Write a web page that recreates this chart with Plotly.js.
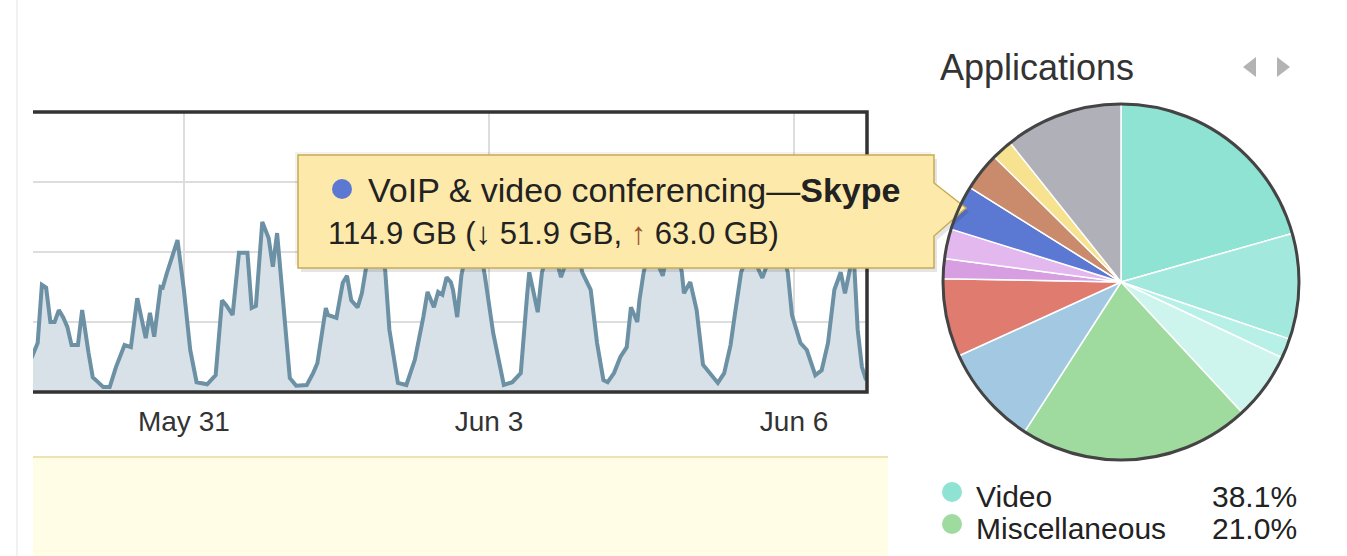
<!DOCTYPE html>
<html><head><meta charset="utf-8">
<script src="https://cdn.plot.ly/plotly-3.0.1.min.js"></script>
<style>html,body{margin:0;padding:0;background:#fff;overflow:hidden}#chart{width:1347px;height:556px}</style>
</head><body><div id="chart"></div>
<script>
// ---- data ----
const hoursFromMay31 = [-36,-34.5,-33.5,-32.5,-31.5,-30.5,-29.5,-28.5,-27.5,-26.5,
 -25,-24,-22.5,-21.5,-19,-17.5,-16,-14,-12.5,-11,
 -9,-8,-7,-5.5,-5,-4,-1.5,0,1.5,3,
 5.5,7.5,9,10,11.5,13,15,16,17,18.5,
 20,21,22,23.5,25,26.5,29,30.5,31.5,33.5,
 34,36,37.5,38.5,39.5,41,42,43.5,45,46.5,
 47.5,48.5,50.5,52.5,54.5,56.5,57.5,59,60,61,
 62,63,63.5,64.5,65.5,67,68.5,70,71,73,
 75.5,77.5,79.5,81,81.5,82.5,83.5,84.5,86.5,88,
 89,90.5,92.5,94,96,97.5,99,100,101.5,103,
 104.5,105.5,107,107.5,108.5,110,111.5,113,114,116,
 117.5,118,119.5,121,122.5,124,126,127.5,129,130,
 131.5,133.5,135.5,136.5,138.5,140.5,142.5,143.5,145.5,147,
 149,150.5,152,153.5,155,156,157,158,159,160,161];
const usage = [4.8,7.0,15.3,14.9,10.0,10.0,11.7,10.7,9.3,6.7,
 6.7,11.7,5.6,2.1,0.7,0.7,3.6,6.7,6.4,13.4,
 7.7,11.3,7.9,15.0,14.9,17.0,21.7,14.6,6.0,1.4,
 1.1,2.4,13.1,12.4,11.0,19.9,19.9,12.0,12.3,24.3,
 22.0,17.9,22.7,12.7,2.0,0.9,1.0,2.7,4.1,12.0,
 11.0,10.6,15.6,16.6,13.1,12.1,14.1,19.6,22.9,21.0,
 17.4,8.9,1.3,1.0,4.6,10.7,14.3,12.1,14.3,13.9,
 16.4,15.7,14.6,10.7,16.7,21.0,22.9,20.3,16.7,8.4,
 1.0,1.4,2.7,13.9,17.1,14.3,11.4,17.1,21.0,18.6,
 16.4,19.1,22.0,17.1,14.6,7.0,1.7,1.4,2.7,5.0,
 6.4,12.1,10.0,13.1,17.1,21.0,18.6,16.6,19.6,21.7,
 17.1,14.1,15.7,11.7,3.9,2.7,1.3,2.7,6.7,11.0,
 17.1,20.3,17.7,16.3,19.6,21.7,17.1,11.0,7.0,6.0,
 2.4,3.1,7.0,14.6,17.1,14.1,17.0,20.3,8.9,3.6,1.7];
const tickDates = ['2013-05-31','2013-06-03','2013-06-06'];
const tickLabels = ['May 31','Jun 3','Jun 6'];

const appLabels = ['Video — 1','Video — 2','Video — 3','Video — 4','Miscellaneous',
 'Category 3','Category 4','Category 5a','Category 5b',
 'VoIP & video conferencing—Skype','Category 7','Category 8','Other'];
const appShares = [20.6,9.6,1.8,6.1,21.0,9.1,7.1,1.8,2.7,4.1,3.5,1.9,10.7];
const appColors = ['#8ee3d3','#a2e8dc','#b7f0e6','#cdf5ee','#9fdb9e','#a3c9e2','#e07b6f',
 '#d79fe1','#e3b8ee','#5b79d3','#c98b6b','#f6e28f','#b0b0b8'];

const legendCategories = ['Video','Miscellaneous'];
const legendShares = ['38.1%','21.0%'];
const legendColors = ['#8ee3d3','#9fdb9e'];

const tooltipTitle = 'VoIP & video conferencing—';
const tooltipApp = 'Skype';
const tooltipTotal = '114.9 GB';
const tooltipDown = '51.9 GB';
const tooltipUp = '63.0 GB';
const panelTitle = 'Applications';

// ---- helpers ----
const W = 1347, H = 556;
const fx = x => x / W, fy = y => 1 - y / H;
function hToDate(h) {
  const d = new Date(Date.UTC(2013, 4, 31) + h * 3600000);
  return d.toISOString().slice(0, 16).replace('T', ' ');
}
const P = (x, y) => fx(x) + ',' + fy(y);
function path(pts, close) {
  return 'M' + pts.map(p => P(p[0], p[1])).join(' L') + (close ? ' Z' : '');
}
const FONT = 'Liberation Sans, Arial, sans-serif';
function ann(text, x, y, size, opts) {
  return Object.assign({ text, x: fx(x), y: fy(y), xref: 'paper', yref: 'paper',
    showarrow: false, xanchor: 'left', yanchor: 'middle',
    font: { family: FONT, size, color: '#222' } }, opts || {});
}

const dates = hoursFromMay31.map(hToDate);

const traces = [
  { type: 'scatter', mode: 'lines', x: dates, y: usage, fill: 'tozeroy',
    fillcolor: '#d8e1e8', line: { color: '#6c90a4', width: 4 }, hoverinfo: 'none' },
  { type: 'pie', values: appShares, labels: appLabels, sort: false, direction: 'clockwise',
    rotation: 0, textinfo: 'none', hoverinfo: 'none',
    marker: { colors: appColors, line: { color: '#ffffff', width: 1.5 } },
    domain: { x: [fx(943), fx(1299)], y: [fy(460), fy(104)] } }
];

const ttBox = [[298,155],[934,155],[934,183],[966,208],[934,236],[934,268],[298,268]];
const shadow = (dx, dy) => ttBox.map(p => [p[0] + dx, p[1] + dy]);

const shapes = [
  { type: 'line', xref: 'paper', yref: 'paper', x0: fx(17), x1: fx(17), y0: 0, y1: 1,
    line: { color: '#ececec', width: 1.5 }, layer: 'below' },
  { type: 'rect', xref: 'paper', yref: 'paper', x0: fx(33), x1: fx(888), y0: 0, y1: fy(457),
    fillcolor: '#fffde6', line: { width: 0 }, layer: 'below' },
  { type: 'line', xref: 'paper', yref: 'paper', x0: fx(33), x1: fx(888), y0: fy(457), y1: fy(457),
    line: { color: '#eee3b2', width: 2 } },
  { type: 'path', xref: 'paper', yref: 'paper',
    path: path([[33,112],[867,112],[867,392],[33,392]], false),
    line: { color: '#333333', width: 3.5 }, layer: 'above' },
  { type: 'path', xref: 'paper', yref: 'paper', path: path(shadow(-3, -3), true),
    fillcolor: 'rgba(0,0,0,0.05)', line: { width: 0 } },
  { type: 'path', xref: 'paper', yref: 'paper', path: path(shadow(3, 4), true),
    fillcolor: 'rgba(0,0,0,0.10)', line: { width: 0 } },
  { type: 'path', xref: 'paper', yref: 'paper', path: path(ttBox, true),
    fillcolor: '#fde9a9', line: { color: '#c9ab52', width: 1.5 } },
  { type: 'circle', xref: 'paper', yref: 'paper', x0: fx(332), x1: fx(352), y0: fy(199), y1: fy(179),
    fillcolor: '#5b79d3', line: { width: 0 } },
  { type: 'circle', xref: 'paper', yref: 'paper', x0: fx(943), x1: fx(1299), y0: fy(460), y1: fy(104),
    line: { color: '#444444', width: 3 }, layer: 'above' },
  { type: 'path', xref: 'paper', yref: 'paper', path: path([[1243,67],[1256,57],[1256,77]], true),
    fillcolor: '#b3b3b3', line: { width: 0 } },
  { type: 'path', xref: 'paper', yref: 'paper', path: path([[1290,67],[1277,57],[1277,77]], true),
    fillcolor: '#b3b3b3', line: { width: 0 } }
];
legendColors.forEach((c, i) => {
  const cy = 492 + i * 32;
  shapes.push({ type: 'circle', xref: 'paper', yref: 'paper', x0: fx(942), x1: fx(962),
    y0: fy(cy + 10), y1: fy(cy - 10), fillcolor: c, line: { width: 0 } });
});

const annotations = [
  ann(tooltipTitle + '<b>' + tooltipApp + '</b>', 366, 190, 34),
  ann(tooltipTotal + ' (↓ ' + tooltipDown + ', <span style="color:#a0522d">↑</span> ' + tooltipUp + ')', 326, 233, 31),
  ann(panelTitle, 938, 67, 36, { font: { family: FONT, size: 36, color: '#333' } })
];
legendCategories.forEach((c, i) => {
  const cy = 496 + i * 32;
  annotations.push(ann(c, 974, cy, 30));
  annotations.push(ann(legendShares[i], 1299, cy, 30, { xanchor: 'right' }));
});

const layout = {
  width: W, height: H, margin: { l: 0, r: 0, t: 0, b: 0 },
  paper_bgcolor: '#ffffff', plot_bgcolor: '#ffffff', showlegend: false,
  xaxis: { domain: [fx(33), fx(867)], type: 'date',
    range: [hToDate(-35.6), hToDate(161.2)],
    tickmode: 'array', tickvals: tickDates, ticktext: tickLabels,
    showgrid: true, gridcolor: '#dddddd', gridwidth: 2, ticks: '', showline: false,
    zeroline: false, ticklabelstandoff: 10,
    tickfont: { family: "'Liberation Sans Narrow', 'Liberation Sans', Arial, sans-serif", size: 28, color: '#333' } },
  yaxis: { domain: [fy(392), fy(112)], range: [0, 40], dtick: 10, showgrid: true,
    gridcolor: '#dddddd', gridwidth: 2, showticklabels: false, zeroline: false, showline: false, ticks: '' },
  shapes, annotations
};

Plotly.newPlot('chart', traces, layout, { staticPlot: true, displayModeBar: false });
</script></body></html>
